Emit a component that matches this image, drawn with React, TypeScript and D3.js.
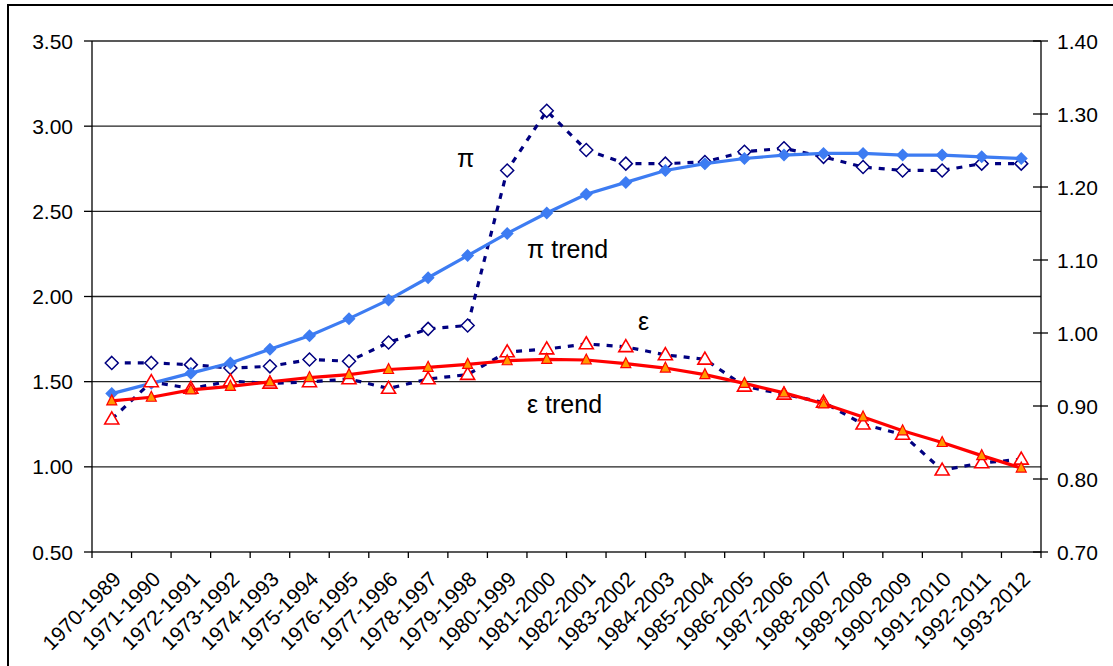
import React from "react";
import * as d3 from "d3";

// periods on the x axis
const periods = [
  "1970-1989", "1971-1990", "1972-1991", "1973-1992", "1974-1993", "1975-1994",
  "1976-1995", "1977-1996", "1978-1997", "1979-1998", "1980-1999", "1981-2000",
  "1982-2001", "1983-2002", "1984-2003", "1985-2004", "1986-2005", "1987-2006",
  "1988-2007", "1989-2008", "1990-2009", "1991-2010", "1992-2011", "1993-2012",
];

// left axis series
const pi = [1.61, 1.61, 1.60, 1.58, 1.59, 1.63, 1.62, 1.73, 1.81, 1.83, 2.74, 3.09,
  2.86, 2.78, 2.78, 2.79, 2.85, 2.87, 2.82, 2.76, 2.74, 2.74, 2.78, 2.78];
const piTrend = [1.43, 1.49, 1.55, 1.61, 1.69, 1.77, 1.87, 1.98, 2.11, 2.24, 2.37, 2.49,
  2.60, 2.67, 2.74, 2.78, 2.81, 2.83, 2.84, 2.84, 2.83, 2.83, 2.82, 2.81];

// right axis series
const eps = [0.882, 0.933, 0.924, 0.934, 0.931, 0.933, 0.937, 0.924, 0.937, 0.943, 0.974, 0.978,
  0.985, 0.981, 0.970, 0.964, 0.927, 0.916, 0.905, 0.875, 0.861, 0.812, 0.822, 0.827];
const epsTrend = [0.907, 0.912, 0.922, 0.927, 0.933, 0.939, 0.943, 0.950, 0.953, 0.957, 0.962, 0.964,
  0.963, 0.958, 0.952, 0.943, 0.931, 0.918, 0.903, 0.885, 0.866, 0.850, 0.832, 0.815];

const leftTicks = [0.5, 1.0, 1.5, 2.0, 2.5, 3.0, 3.5];
const rightTicks = [0.7, 0.8, 0.9, 1.0, 1.1, 1.2, 1.3, 1.4];

const W = 1113, H = 666;
const m = { left: 92, right: 1041, top: 41, bottom: 552 };
const FONT = "'Liberation Sans', Arial, sans-serif";

const diamond = (r: number) => `M0,${-r}L${r},0L0,${r}L${-r},0Z`;
const triangle = (w: number, h: number) => `M0,${-h * 0.6}L${w / 2},${h * 0.4}L${-w / 2},${h * 0.4}Z`;

export default function App() {
  const x = d3.scaleBand().domain(periods).range([m.left, m.right]);
  const cx = (i: number) => (x(periods[i]) as number) + x.bandwidth() / 2;
  const yL = d3.scaleLinear().domain([0.5, 3.5]).range([m.bottom, m.top]);
  const yR = d3.scaleLinear().domain([0.7, 1.4]).range([m.bottom, m.top]);

  const lineL = d3.line<number>().x((d, i) => cx(i)).y((d) => yL(d));
  const lineR = d3.line<number>().x((d, i) => cx(i)).y((d) => yR(d));

  const bounds = periods.map((p) => x(p) as number).concat([m.right]);

  return (
    <svg width={W} height={H} style={{ position: "absolute", left: 0, top: 0, background: "#fff" }}
      fontFamily={FONT}>
      <rect x={8} y={5} width={1200} height={800} fill="#fff" stroke="#000" strokeWidth={2} />

      {/* gridlines */}
      {leftTicks.map((t) => (
        <line key={t} x1={m.left} x2={m.right} y1={yL(t)} y2={yL(t)} stroke="#222" strokeWidth={1.3} />
      ))}

      {/* left axis */}
      <line x1={m.left} x2={m.left} y1={m.top} y2={m.bottom} stroke="#000" strokeWidth={1.3} />
      {leftTicks.map((t) => (
        <g key={t}>
          <line x1={m.left - 8} x2={m.left} y1={yL(t)} y2={yL(t)} stroke="#000" strokeWidth={1.3} />
          <text x={m.left - 19} y={yL(t)} dy="0.36em" textAnchor="end" fontSize={21}>{t.toFixed(2)}</text>
        </g>
      ))}

      {/* right axis */}
      <line x1={m.right} x2={m.right} y1={m.top} y2={m.bottom} stroke="#000" strokeWidth={1.3} />
      {rightTicks.map((t) => (
        <g key={t}>
          <line x1={m.right - 8} x2={m.right + 7} y1={yR(t)} y2={yR(t)} stroke="#000" strokeWidth={1.3} />
          <text x={m.right + 16} y={yR(t)} dy="0.36em" textAnchor="start" fontSize={21}>{t.toFixed(2)}</text>
        </g>
      ))}

      {/* x axis */}
      {bounds.map((b, i) => (
        <line key={i} x1={b} x2={b} y1={m.bottom} y2={m.bottom + 6} stroke="#000" strokeWidth={1.3} />
      ))}
      {periods.map((p, i) => (
        <text key={p} transform={`translate(${cx(i)},${m.bottom + 18}) rotate(-45)`}
          textAnchor="end" dy="0.7em" fontSize={21}>{p}</text>
      ))}

      {/* pi */}
      <path d={lineL(pi) || ""} fill="none" stroke="#000080" strokeWidth={3.2} strokeDasharray="6,7" />
      {pi.map((v, i) => (
        <path key={i} d={diamond(6.5)} transform={`translate(${cx(i)},${yL(v)})`}
          fill="#fff" stroke="#000080" strokeWidth={1.5} />
      ))}

      {/* pi trend */}
      <path d={lineL(piTrend) || ""} fill="none" stroke="#3d7cf2" strokeWidth={3.2} />
      {piTrend.map((v, i) => (
        <path key={i} d={diamond(6.5)} transform={`translate(${cx(i)},${yL(v)})`} fill="#3d7cf2" />
      ))}

      {/* epsilon */}
      <path d={lineR(eps) || ""} fill="none" stroke="#000080" strokeWidth={3.2} strokeDasharray="6,7" />
      {eps.map((v, i) => (
        <path key={i} d={triangle(14, 12)} transform={`translate(${cx(i)},${yR(v)})`}
          fill="#fff" stroke="#ff0000" strokeWidth={1.6} />
      ))}

      {/* epsilon trend */}
      <path d={lineR(epsTrend) || ""} fill="none" stroke="#ff0000" strokeWidth={3.2} />
      {epsTrend.map((v, i) => (
        <path key={i} d={triangle(10, 10)} transform={`translate(${cx(i)},${yR(v)})`}
          fill="#ff9900" stroke="#ff0000" strokeWidth={1.2} />
      ))}

      {/* annotations */}
      <text x={457} y={167} fontSize={25}>π</text>
      <text x={527} y={258} fontSize={25}>π trend</text>
      <text x={638} y={330} fontSize={25}>ε</text>
      <text x={527} y={413} fontSize={25}>ε trend</text>
    </svg>
  );
}
